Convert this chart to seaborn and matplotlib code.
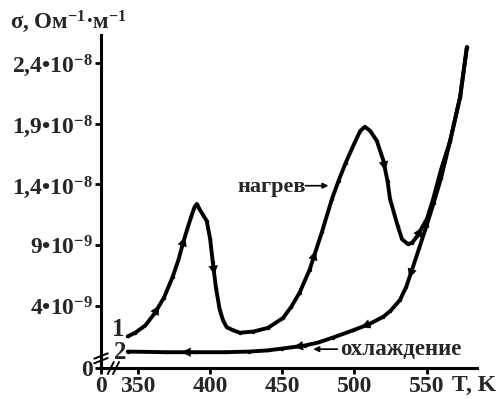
import numpy as np
import pandas as pd
import matplotlib
matplotlib.use("Agg")
import matplotlib.pyplot as plt
import seaborn as sns

# curve 1 - heating, T in K, sigma in 1e-9 Ohm^-1 m^-1
t_heat = [342.8, 348, 355, 361.5, 368, 374, 378, 381, 384, 387, 389, 390.7,
          392.5, 395, 397.6, 400, 401.8, 404, 406.6, 409, 411.5, 416, 420.5,
          430, 440, 450.4, 456, 462, 469, 477.5, 484.4, 489, 494, 500, 504,
          507.3, 511, 515.5, 520, 523, 524.7, 530, 533, 537, 540, 543.5,
          550.4, 554.6, 560, 566.4, 573.3, 578]
s_heat = [1.5, 1.8, 2.4, 3.4, 4.7, 6.4, 7.8, 9.1, 10.3, 11.4, 12.1, 12.4,
          12.0, 11.5, 11.0, 9.5, 7.6, 5.5, 3.7, 2.8, 2.25, 2.0, 1.8,
          1.9, 2.2, 3.0, 3.9, 5.1, 7.0, 10.1, 12.8, 14.3, 15.8, 17.4, 18.4,
          18.75, 18.4, 17.6, 16.0, 14.25, 12.8, 10.6, 9.5, 9.1, 9.2, 9.75,
          11.2, 12.8, 15.2, 17.6, 21.2, 25.3]

# curve 2 - cooling
t_cool = [578, 573.3, 566.4, 560, 555, 550, 545, 540, 536, 531.6, 525, 519.8,
          510, 499, 485, 475, 465.7, 450, 440, 427, 410, 390, 370, 342.8]
s_cool = [25.3, 21.2, 17.6, 14.5, 12.5, 10.6, 8.8, 7.0, 5.6, 4.5, 3.6, 3.1,
          2.5, 2.0, 1.4, 1.0, 0.75, 0.5, 0.35, 0.25, 0.2, 0.2, 0.2, 0.25]

y_ticks = [4, 9, 14, 19, 24]
y_labels = ["4\u202210^{-9}", "9\u202210^{-9}", "1{,}4\u202210^{-8}",
            "1{,}9\u202210^{-8}", "2{,}4\u202210^{-8}"]
x_ticks = [350, 400, 450, 500, 550]

heat_arrows = [3, 7, 16, 28, 38, 45]
cool_arrows = [7, 12, 16, 21]

sns.set_theme(style="ticks")
plt.rcParams["font.family"] = ["Liberation Serif", "DejaVu Serif"]
plt.rcParams["font.weight"] = "bold"
plt.rcParams["mathtext.fontset"] = "custom"
plt.rcParams["mathtext.rm"] = "Liberation Serif:bold"
plt.rcParams["mathtext.it"] = "Liberation Serif:bold"
plt.rcParams["mathtext.bf"] = "Liberation Serif:bold"

x0, x1 = 324.3, 585
y0, y1 = -1.1, 26.3

heat = pd.DataFrame({"T": t_heat, "s": s_heat})
cool = pd.DataFrame({"T": t_cool, "s": s_cool})

fig = plt.figure(figsize=(4.96, 3.99), dpi=100)
ax = fig.add_axes([101 / 496, 1 - 368 / 399, 376 / 496, 333 / 399])

for df in (heat, cool):
    sns.lineplot(data=df, x="T", y="s", sort=False, ax=ax, color="black",
                 lw=2.8, marker="o", markersize=2.5, markeredgewidth=0)


def add_arrows(df, idxs):
    for i in idxs:
        p0 = (df["T"][i], df["s"][i])
        p1 = (df["T"][i + 1], df["s"][i + 1])
        mid = ((p0[0] + p1[0]) / 2, (p0[1] + p1[1]) / 2)
        ax.annotate("", xy=mid, xytext=p0,
                    arrowprops=dict(arrowstyle="-|>", lw=0, color="black",
                                    mutation_scale=17, shrinkA=0, shrinkB=0))


add_arrows(heat, heat_arrows)
add_arrows(cool, cool_arrows)

ax.set_xlim(x0, x1)
ax.set_ylim(y0, y1)
ax.set_xticks([x0] + x_ticks)
ax.set_xticklabels(["0"] + [str(v) for v in x_ticks])
ax.set_yticks([y0] + y_ticks)
ax.set_yticklabels(["0"] + ["$" + s + "$" for s in y_labels])
ax.tick_params(labelsize=17, width=2, length=4, color="black", pad=2)
ax.set_xlabel("")
ax.set_ylabel("")
for sp in ("top", "right"):
    ax.spines[sp].set_visible(False)
for sp in ("left", "bottom"):
    ax.spines[sp].set_linewidth(2.2)
    ax.spines[sp].set_color("black")

# axis break marks
kw = dict(transform=ax.transAxes, color="black", lw=1.4, clip_on=False)
for yy in (0.022, 0.036):
    ax.plot([-0.018, 0.018], [yy - 0.008, yy + 0.008], **kw)
for xx in (0.026, 0.040):
    ax.plot([xx - 0.008, xx + 0.008], [-0.018, 0.018], **kw)

ax.text(336, 2.1, "1", fontsize=18, ha="center", va="center")
ax.text(337.5, 0.2, "2", fontsize=18, ha="center", va="center")

ax.text(418.7, 13.8, "нагрев", fontsize=16, ha="left", va="center")
ax.annotate("", xy=(482, 13.9), xytext=(466, 13.9),
            arrowprops=dict(arrowstyle="-|>", lw=1.2, color="black",
                            mutation_scale=8, shrinkA=0, shrinkB=0))
ax.text(490.3, 0.45, "охлаждение", fontsize=16.5, ha="left", va="center")
ax.annotate("", xy=(471.5, 0.45), xytext=(488.2, 0.45),
            arrowprops=dict(arrowstyle="-|>", lw=1.2, color="black",
                            mutation_scale=8, shrinkA=0, shrinkB=0))

fig.text(10 / 496, 1 - 22 / 399, "σ, Ом$^{-1}$·м$^{-1}$", fontsize=16.5,
         ha="left", va="center")
fig.text(452 / 496, 1 - 385 / 399, "T, K", fontsize=17, ha="left",
         va="center")

fig.savefig("out.png", dpi=100, facecolor="white")
